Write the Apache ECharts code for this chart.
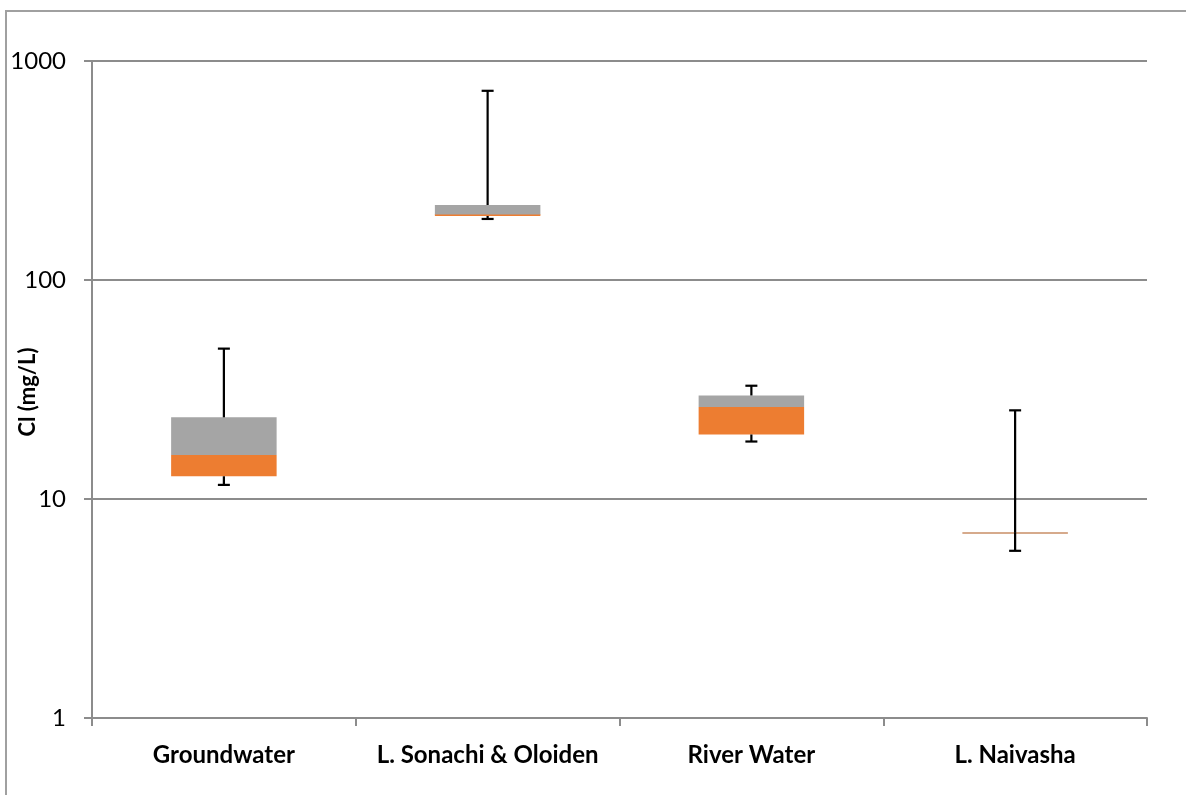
<!DOCTYPE html>
<html>
<head>
<meta charset="utf-8">
<script src="https://cdn.jsdelivr.net/npm/echarts@6/dist/echarts.min.js"></script>
<style>
html,body{margin:0;padding:0;background:#fff;}
#main{width:1186px;height:795px;}
</style>
</head>
<body>
<div id="main"></div>
<script>
var categories = ['Groundwater', 'L. Sonachi & Oloiden', 'River Water', 'L. Naivasha'];
var minValues    = [11.6, 190, 18.3, 5.8];
var q1Values     = [12.7, 196, 19.7, 7.0];
var medianValues = [15.9, 199, 26.3, 7.0];
var q3Values     = [23.6, 220, 29.7, 7.0];
var maxValues    = [48.6, 731, 32.9, 25.4];
var yTicks = [1, 10, 100, 1000];
var yAxisTitle = 'Cl (mg/L)';

var FONT = 'Lato, "Liberation Sans", sans-serif';

var data = categories.map(function (c, i) {
  return [i, minValues[i], q1Values[i], medianValues[i], q3Values[i], maxValues[i]];
});

function renderItem(params, api) {
  var idx = api.value(0);
  var band = api.size([1, 0])[0];
  var bw = band * 0.4;
  var cap = 12;
  var pMin = api.coord([idx, api.value(1)]);
  var pQ1 = api.coord([idx, api.value(2)]);
  var pMed = api.coord([idx, api.value(3)]);
  var pQ3 = api.coord([idx, api.value(4)]);
  var pMax = api.coord([idx, api.value(5)]);
  var x = pMed[0];
  var children = [];
  var oh = pQ1[1] - pMed[1];
  if (oh > 0.5) {
    if (oh < 2) { oh = 2; }
    children.push({
      type: 'rect',
      shape: { x: x - bw / 2, y: pQ1[1] - oh, width: bw, height: oh },
      style: { fill: '#ED7D31' }
    });
  }
  var gh = pMed[1] - pQ3[1];
  if (gh > 0.5) {
    children.push({
      type: 'rect',
      shape: { x: x - bw / 2, y: pQ3[1], width: bw, height: gh },
      style: { fill: '#A5A5A5' }
    });
  }
  if (oh <= 0.5 && gh <= 0.5) {
    children.push({
      type: 'line',
      shape: { x1: x - bw / 2, y1: pMed[1], x2: x + bw / 2, y2: pMed[1] },
      style: { stroke: '#D6AA8C', lineWidth: 2 }
    });
  }
  var ws = { stroke: '#000', lineWidth: 2.2 };
  children.push({ type: 'line', shape: { x1: x, y1: pQ3[1], x2: x, y2: pMax[1] }, style: ws });
  children.push({ type: 'line', shape: { x1: x - cap / 2, y1: pMax[1], x2: x + cap / 2, y2: pMax[1] }, style: ws });
  children.push({ type: 'line', shape: { x1: x, y1: pQ1[1], x2: x, y2: pMin[1] }, style: ws });
  children.push({ type: 'line', shape: { x1: x - cap / 2, y1: pMin[1], x2: x + cap / 2, y2: pMin[1] }, style: ws });
  return { type: 'group', children: children };
}

var chart = echarts.init(document.getElementById('main'), null, { renderer: 'canvas' });
chart.setOption({
  animation: false,
  backgroundColor: '#fff',
  graphic: [{
    type: 'rect',
    shape: { x: 6, y: 11, width: 1400, height: 1000 },
    style: { fill: 'none', stroke: '#A0A0A0', lineWidth: 2 },
    silent: true,
    z: -1
  }, {
    type: 'text',
    x: 28,
    y: 392,
    rotation: Math.PI / 2,
    style: {
      text: yAxisTitle,
      fill: '#000',
      font: 'bold 22px ' + FONT,
      textAlign: 'center',
      textVerticalAlign: 'middle'
    },
    silent: true,
    z: 10
  }],
  grid: { left: 92, top: 61, width: 1055, height: 657, containLabel: false, outerBoundsMode: 'none' },
  xAxis: {
    type: 'category',
    data: categories,
    boundaryGap: true,
    axisLine: { lineStyle: { color: '#8C8C8C', width: 2 } },
    axisTick: { show: true, length: 8, lineStyle: { color: '#8C8C8C', width: 2 } },
    axisLabel: { color: '#000', fontFamily: FONT, fontSize: 24, fontWeight: 'bold', margin: 25, interval: 0 },
    splitLine: { show: false }
  },
  yAxis: {
    type: 'log',
    logBase: 10,
    min: yTicks[0],
    max: yTicks[yTicks.length - 1],
    axisLine: { show: true, lineStyle: { color: '#8C8C8C', width: 2 } },
    axisTick: { show: true, length: 8, lineStyle: { color: '#8C8C8C', width: 2 } },
    axisLabel: {
      color: '#000', fontFamily: FONT, fontSize: 24, margin: 26,
      formatter: function (v) { return String(Math.round(v)); }
    },
    splitLine: { show: true, lineStyle: { color: '#8C8C8C', width: 2 } }
  },
  series: [{
    type: 'custom',
    renderItem: renderItem,
    encode: { x: 0, y: [1, 2, 3, 4, 5] },
    data: data,
    z: 3
  }]
});
</script>
</body>
</html>
